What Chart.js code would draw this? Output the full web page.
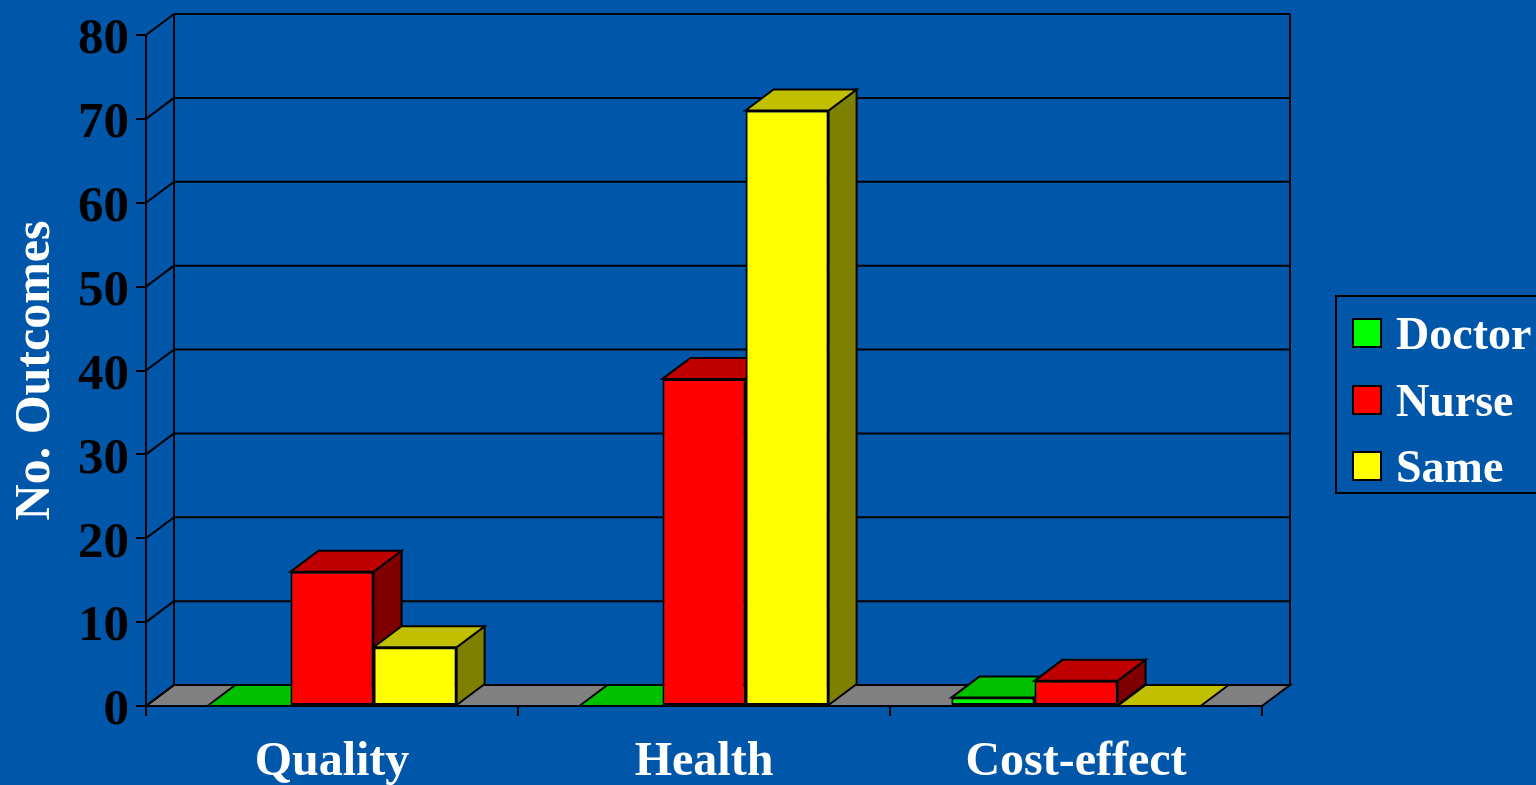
<!DOCTYPE html>
<html>
<head>
<meta charset="utf-8">
<script src="https://cdn.jsdelivr.net/npm/chart.js@4/dist/chart.umd.min.js"></script>
<style>
  html, body { margin: 0; padding: 0; background: #0056A8; overflow: hidden; width: 1536px; height: 785px; }
  #wrap { position: relative; width: 1536px; height: 785px; }
  canvas { position: absolute; left: 0; top: 0; }
  #legend { position: absolute; left: 1335px; top: 295px; width: 230px; height: 199px; box-sizing: border-box; border: 2px solid #000; }
  .item { position: absolute; left: 15px; height: 40px; display: flex; align-items: center; font: bold 46px "Liberation Serif", "Times New Roman", serif; color: #fff; white-space: nowrap; }
  .sw { width: 26px; height: 26px; border: 2px solid #000; margin-right: 14px; flex: none; }
</style>
</head>
<body>
<div id="wrap">
  <canvas id="c" width="1536" height="785"></canvas>
  <div id="legend"></div>
</div>
<script>
const categories = ["Quality", "Health", "Cost-effect"];
const seriesNames = ["Doctor", "Nurse", "Same"];
const doctorValues = [0, 0, 1];
const nurseValues = [16, 39, 3];
const sameValues = [7, 71, 0];
const yTicks = [0, 10, 20, 30, 40, 50, 60, 70, 80];
const frontColors = ["#00FF00", "#FF0000", "#FFFF00"];
const topColors = ["#00C000", "#C00000", "#C0C000"];
const sideColors = ["#008000", "#800000", "#808000"];

const DX = 28, DY = -21;
const FONT = '"Liberation Serif", "Times New Roman", serif';

const threeD = {
  id: 'threeD',
  beforeDatasetsDraw(chart) {
    const ctx = chart.ctx;
    const a = chart.chartArea;
    const ys = chart.scales.y;
    ctx.save();
    ctx.lineWidth = 2;
    ctx.strokeStyle = '#000';
    ctx.lineJoin = 'miter';
    const y0 = ys.getPixelForValue(0);
    ctx.beginPath();
    ctx.moveTo(a.left, y0);
    ctx.lineTo(a.left + DX, y0 + DY);
    ctx.lineTo(a.right + DX, y0 + DY);
    ctx.lineTo(a.right, y0);
    ctx.closePath();
    ctx.fillStyle = '#808080';
    ctx.fill();
    ctx.stroke();
    const yTop = ys.getPixelForValue(yTicks[yTicks.length - 1]);
    ctx.beginPath();
    yTicks.forEach(v => {
      const y = ys.getPixelForValue(v);
      ctx.moveTo(a.left, y);
      ctx.lineTo(a.left + DX, y + DY);
      if (v !== 0) {
        ctx.moveTo(a.left + DX, y + DY);
        ctx.lineTo(a.right + DX, y + DY);
      }
    });
    ctx.moveTo(a.left + DX, y0 + DY);
    ctx.lineTo(a.left + DX, yTop + DY);
    ctx.moveTo(a.right + DX, y0 + DY);
    ctx.lineTo(a.right + DX, yTop + DY);
    ctx.stroke();
    const bars = [];
    chart.data.datasets.forEach((ds, di) => {
      chart.getDatasetMeta(di).data.forEach(el => {
        const p = el.getProps(['x', 'y', 'base', 'width'], true);
        bars.push({ p, di });
      });
    });
    bars.sort((m, n) => m.p.x - n.p.x);
    bars.forEach(({ p, di }) => {
      const x0 = p.x - p.width / 2, x1 = p.x + p.width / 2;
      const top = Math.min(p.y, p.base), base = Math.max(p.y, p.base);
      if (base - top > 0.5) {
        ctx.beginPath();
        ctx.moveTo(x1, top);
        ctx.lineTo(x1 + DX, top + DY);
        ctx.lineTo(x1 + DX, base + DY);
        ctx.lineTo(x1, base);
        ctx.closePath();
        ctx.fillStyle = sideColors[di];
        ctx.fill();
        ctx.stroke();
      }
      ctx.beginPath();
      ctx.moveTo(x0, top);
      ctx.lineTo(x0 + DX, top + DY);
      ctx.lineTo(x1 + DX, top + DY);
      ctx.lineTo(x1, top);
      ctx.closePath();
      ctx.fillStyle = topColors[di];
      ctx.fill();
      ctx.stroke();
    });
    ctx.restore();
  }
};

new Chart(document.getElementById('c'), {
  type: 'bar',
  data: {
    labels: categories,
    datasets: [
      { label: seriesNames[0], data: doctorValues, backgroundColor: frontColors[0] },
      { label: seriesNames[1], data: nurseValues, backgroundColor: frontColors[1] },
      { label: seriesNames[2], data: sameValues, backgroundColor: frontColors[2] }
    ]
  },
  options: {
    responsive: false,
    animation: false,
    devicePixelRatio: 1,
    layout: { padding: { top: 35, right: 274, bottom: 0, left: 0 } },
    datasets: {
      bar: {
        categoryPercentage: 0.67,
        barPercentage: 1.0,
        borderColor: '#000',
        borderWidth: 2,
        borderSkipped: false
      }
    },
    plugins: { legend: { display: false }, tooltip: { enabled: false } },
    scales: {
      x: {
        grid: { drawOnChartArea: false, tickLength: 10, color: '#000', lineWidth: 2, offset: true },
        border: { display: true, color: '#000', width: 2 },
        ticks: { color: '#fff', font: { family: FONT, size: 48, weight: 'bold' }, padding: 18, maxRotation: 0 },
        afterFit(scale) { scale.height = 79; }
      },
      y: {
        min: 0, max: 80,
        afterBuildTicks(scale) { scale.ticks = yTicks.map(v => ({ value: v })); },
        grid: { drawOnChartArea: false, tickLength: 10, color: '#000', lineWidth: 2 },
        border: { display: true, color: '#000', width: 2 },
        ticks: {
          color: '#000',
          font: { family: FONT, size: 51, weight: 'bold', lineHeight: 0.2 },
          padding: 7,
          callback: v => ['', String(v)]
        },
        title: { display: true, text: 'No. Outcomes', color: '#fff', font: { family: FONT, size: 50, weight: 'bold' }, padding: { top: 6, bottom: 4 } },
        afterFit(scale) { scale.width = 146; }
      }
    }
  },
  plugins: [threeD]
});

const lg = document.getElementById('legend');
const itemTops = [16, 83, 149];
seriesNames.forEach((name, i) => {
  const d = document.createElement('div');
  d.className = 'item';
  d.style.top = itemTops[i] + 'px';
  const sw = document.createElement('span');
  sw.className = 'sw';
  sw.style.background = frontColors[i];
  d.appendChild(sw);
  d.appendChild(document.createTextNode(name));
  lg.appendChild(d);
});
</script>
</body>
</html>
